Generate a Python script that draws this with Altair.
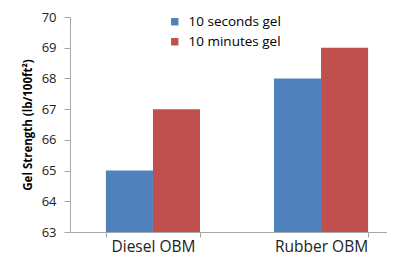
import altair as alt
import pandas as pd

categories = ["Diesel OBM", "Diesel OBM", "Rubber OBM", "Rubber OBM"]
series = ["10 seconds gel", "10 minutes gel", "10 seconds gel", "10 minutes gel"]
values = [65, 67, 68, 69]
series_order = ["10 seconds gel", "10 minutes gel"]
colors = ["#4F81BD", "#C0504D"]
y_ticks = [63, 64, 65, 66, 67, 68, 69, 70]

df = pd.DataFrame({"cat": categories, "series": series, "value": values})

FONT = "Open Sans"

chart = alt.Chart(df).mark_bar(clip=True).encode(
    x=alt.X(
        "cat:N",
        scale=alt.Scale(paddingInner=0.44, paddingOuter=0.163, align=0.655),
        axis=alt.Axis(
            title=None, labelAngle=0, tickBand="extent",
            domainColor="#A6A6A6", tickColor="#A6A6A6", tickSize=5,
            labelFontSize=15.5, labelPadding=2, labelColor="#222222", labelFont=FONT,
        ),
    ),
    xOffset=alt.XOffset("series:N", sort=series_order),
    y=alt.Y(
        "value:Q",
        scale=alt.Scale(domain=[63, 70], zero=False, nice=False),
        axis=alt.Axis(
            values=y_ticks, title="Gel Strength (lb/100ft²)", grid=False,
            domainColor="#A6A6A6", tickColor="#A6A6A6", tickSize=6,
            labelFontSize=13, labelPadding=8, labelColor="#222222", labelFont=FONT,
            titleFont=FONT, titleFontSize=11.5, titleFontWeight="bold", titleColor="#000000",
            titlePadding=8,
        ),
    ),
    color=alt.Color(
        "series:N", sort=series_order,
        scale=alt.Scale(domain=series_order, range=colors),
        legend=alt.Legend(
            orient="none", legendX=98, legendY=-2, title=None,
            symbolType="square", symbolSize=55, symbolStrokeWidth=0,
            labelFont=FONT, labelFontSize=13.5, labelColor="#000000",
            rowPadding=5, labelOffset=7,
        ),
    ),
).properties(
    width=317, height=215,
    autosize=alt.AutoSizeParams(type="none"),
    padding={"left": 62, "top": 9, "right": 0, "bottom": 30},
).configure_view(stroke=None)

chart.save("out.html", embed_options={"renderer": "svg", "actions": False})
